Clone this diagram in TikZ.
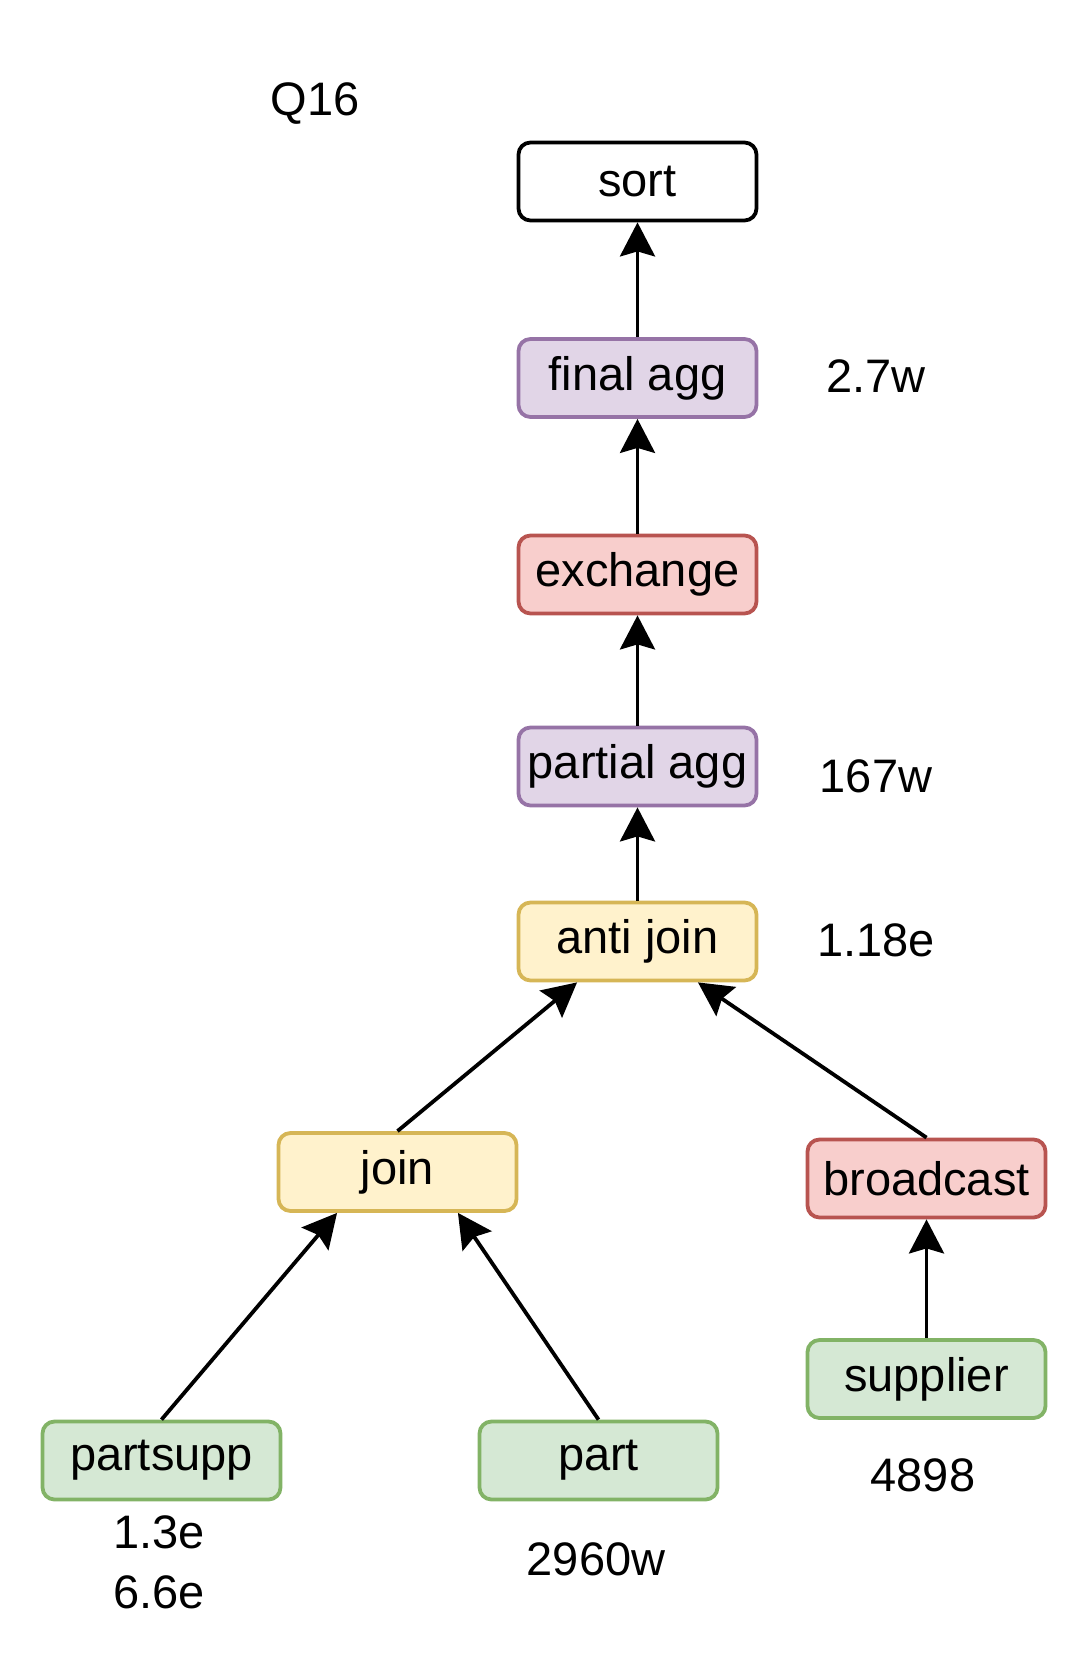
\documentclass[tikz,border=0pt]{standalone}
\usepackage{fontspec}
\setmainfont{Liberation Sans}
\usetikzlibrary{arrows.meta,calc}
\definecolor{purfill}{HTML}{E1D5E7}\definecolor{purline}{HTML}{9673A6}
\definecolor{redfill}{HTML}{F8CECC}\definecolor{redline}{HTML}{B85450}
\definecolor{yelfill}{HTML}{FFF2CC}\definecolor{yelline}{HTML}{D6B656}
\definecolor{grnfill}{HTML}{D5E8D4}\definecolor{grnline}{HTML}{82B366}
\tikzset{
  opbox/.style={draw, line width=1.9pt, rounded corners=6pt, minimum width=119pt, minimum height=39pt, inner sep=0pt, font=\fontsize{23.5}{28}\selectfont, text=black},
  plainbox/.style={opbox, draw=black, fill=white},
  purbox/.style={opbox, draw=purline, fill=purfill},
  redbox/.style={opbox, draw=redline, fill=redfill},
  yelbox/.style={opbox, draw=yelline, fill=yelfill},
  grnbox/.style={opbox, draw=grnline, fill=grnfill},
  lbl/.style={font=\fontsize{23.5}{28}\selectfont, inner sep=0pt, align=center},
  conn/.style={line width=1.9pt, -{Stealth[length=17pt, width=17.5pt, inset=2.5pt]}}
}
\begin{document}
\begin{tikzpicture}[x=0.5pt,y=-0.5pt]
\useasboundingbox (0,0) rectangle (1088,1664);
\node[plainbox] (sort) at (637.5,181.5) {sort};
\node[purbox] (final) at (637.5,378) {final agg};
\node[redbox] (exch) at (637.5,574.5) {exchange};
\node[purbox] (partial) at (637.5,766.5) {partial agg};
\node[yelbox] (anti) at (637.5,941.5) {anti join};
\node[yelbox] (join) at (397.5,1172) {join};
\node[redbox] (bcast) at (926.5,1178.5) {broadcast};
\node[grnbox] (supp) at (926.5,1379) {supplier};
\node[grnbox] (psupp) at (161.5,1460.5) {partsupp};
\node[grnbox] (part) at (598.5,1460.5) {part};

\node[lbl] (q) at (315,104) {Q16};
\node[lbl] (l1) at (876,376) {2.7w};
\node[lbl] (l2) at (876,776) {167w};
\node[lbl] (l3) at (876,940) {1.18e};
\node[lbl] (l4) at (159,1532) {1.3e};
\node[lbl] (l5) at (159,1592) {6.6e};
\node[lbl] (l6) at (596,1559) {2960w};
\node[lbl] (l7) at (923,1475) {4898};

\draw[conn] (final.north) -- (sort.south);
\draw[conn] (exch.north) -- (final.south);
\draw[conn] (partial.north) -- (exch.south);
\draw[conn] (anti.north) -- (partial.south);
\draw[conn] (join.north) -- ($(anti.south west)!0.25!(anti.south east)$);
\draw[conn] (bcast.north) -- ($(anti.south west)!0.75!(anti.south east)$);
\draw[conn] (psupp.north) -- ($(join.south west)!0.25!(join.south east)$);
\draw[conn] (part.north) -- ($(join.south west)!0.75!(join.south east)$);
\draw[conn] (supp.north) -- (bcast.south);
\end{tikzpicture}
\end{document}
